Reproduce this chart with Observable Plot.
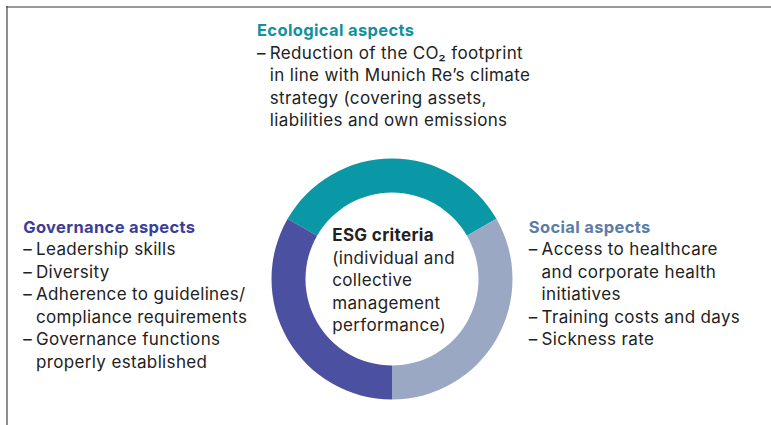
<!DOCTYPE html>
<html><head><meta charset="utf-8">
<script src="https://cdn.jsdelivr.net/npm/d3@7"></script>
<script src="https://cdn.jsdelivr.net/npm/@observablehq/plot@0.6"></script>
<style>html,body{margin:0;padding:0;background:#fff;} svg{display:block}</style>
</head><body><div id="chart"></div>
<script>
// ---- data ----
const segments = ["Ecological aspects", "Social aspects", "Governance aspects"];
const shares = [1, 1, 1];
const segmentColors = ["#0a97a6", "#9aa8c3", "#4c50a0"];
const headingColors = ["#12909d", "#5b7ca8", "#3b3e96"];
const centerTitle = "ESG criteria";
const centerLines = ["(individual and", "collective", "management", "performance)"];
const ecologicalItems = [["Reduction of the CO\u2082 footprint", "in line with Munich Re\u2019s climate", "strategy (covering assets,", "liabilities and own emissions"]];
const socialItems = [["Access to healthcare", "and corporate health", "initiatives"], ["Training costs and days"], ["Sickness rate"]];
const governanceItems = [["Leadership skills"], ["Diversity"], ["Adherence to guidelines/", "compliance requirements"], ["Governance functions", "properly established"]];

// ---- layout ----
const W = 771, H = 425;
const FONT = "Inter, 'Liberation Sans', sans-serif";
const LH = 22.5, BODY = 17, HEAD = 16.5, INDENT = 12.8;
const cx = 392, cy = 279, R = 120.5, r0 = 86.5;

function rows(items) {
  const out = [];
  items.forEach(lines => lines.forEach((t, j) => out.push({text: t, dash: j === 0})));
  return out.map((d, i) => ({...d, row: i}));
}

function block(name, ci, items, x0, y0) {
  const rs = rows(items);
  return [
    Plot.text([name], {x: () => x0, y: () => y0, text: d => d, textAnchor: "start", lineAnchor: "bottom",
      fill: headingColors[ci], fontSize: HEAD, fontWeight: "bold", fontFamily: FONT}),
    Plot.text(rs.filter(d => d.dash), {x: () => x0, y: d => y0 + LH * (d.row + 1), text: () => "\u2013",
      textAnchor: "start", lineAnchor: "bottom", fill: "#222", fontSize: BODY, fontFamily: FONT}),
    Plot.text(rs, {x: () => x0 + INDENT, y: d => y0 + LH * (d.row + 1), text: "text",
      textAnchor: "start", lineAnchor: "bottom", fill: "#222", fontSize: BODY, fontFamily: FONT})
  ];
}

const pieData = d3.pie().sort(null).startAngle(-Math.PI / 3).endAngle(5 * Math.PI / 3)(shares)
  .map((p, i) => ({...p, name: segments[i], color: segmentColors[i]}));

function donut(index, scales) {
  const sx = scales.x ?? (v => v), sy = scales.y ?? (v => v);
  const X = sx(cx), Y = sy(cy);
  const outer = sx(cx + R) - X, inner = sx(cx + r0) - X;
  const arc = d3.arc().innerRadius(inner).outerRadius(outer);
  const g = d3.create("svg:g").attr("transform", `translate(${X},${Y})`);
  g.selectAll("path").data(pieData).join("path").attr("d", arc).attr("fill", d => d.color);
  return g.node();
}

const chart = Plot.plot({
  width: W, height: H, margin: 0,
  x: {domain: [0, W], range: [0, W], axis: null},
  y: {domain: [0, H], range: [0, H], axis: null},
  style: {background: "#fff", fontFamily: FONT, letterSpacing: "0.35px"},
  marks: [
    Plot.ruleY([6.5], {x1: 6, x2: W, stroke: "#777", strokeWidth: 1.5}),
    Plot.ruleX([6.5], {y1: 6, y2: H, stroke: "#444", strokeWidth: 1.2}),
    donut,
    ...block(segments[0], 0, ecologicalItems, 256.5, 35.7),
    ...block(segments[2], 2, governanceItems, 22.7, 232.3),
    ...block(segments[1], 1, socialItems, 528.3, 232.3),
    Plot.text([centerTitle], {x: () => 331.7, y: () => 240.7, text: d => d, textAnchor: "start", lineAnchor: "bottom",
      fill: "#222", fontSize: BODY, fontWeight: "bold", fontFamily: FONT}),
    Plot.text(centerLines, {x: () => 331.7, y: (d, i) => 240.7 + LH * (i + 1), text: d => d, textAnchor: "start",
      lineAnchor: "bottom", fill: "#222", fontSize: BODY, fontFamily: FONT})
  ]
});
document.getElementById("chart").append(chart);
</script>
</body></html>
